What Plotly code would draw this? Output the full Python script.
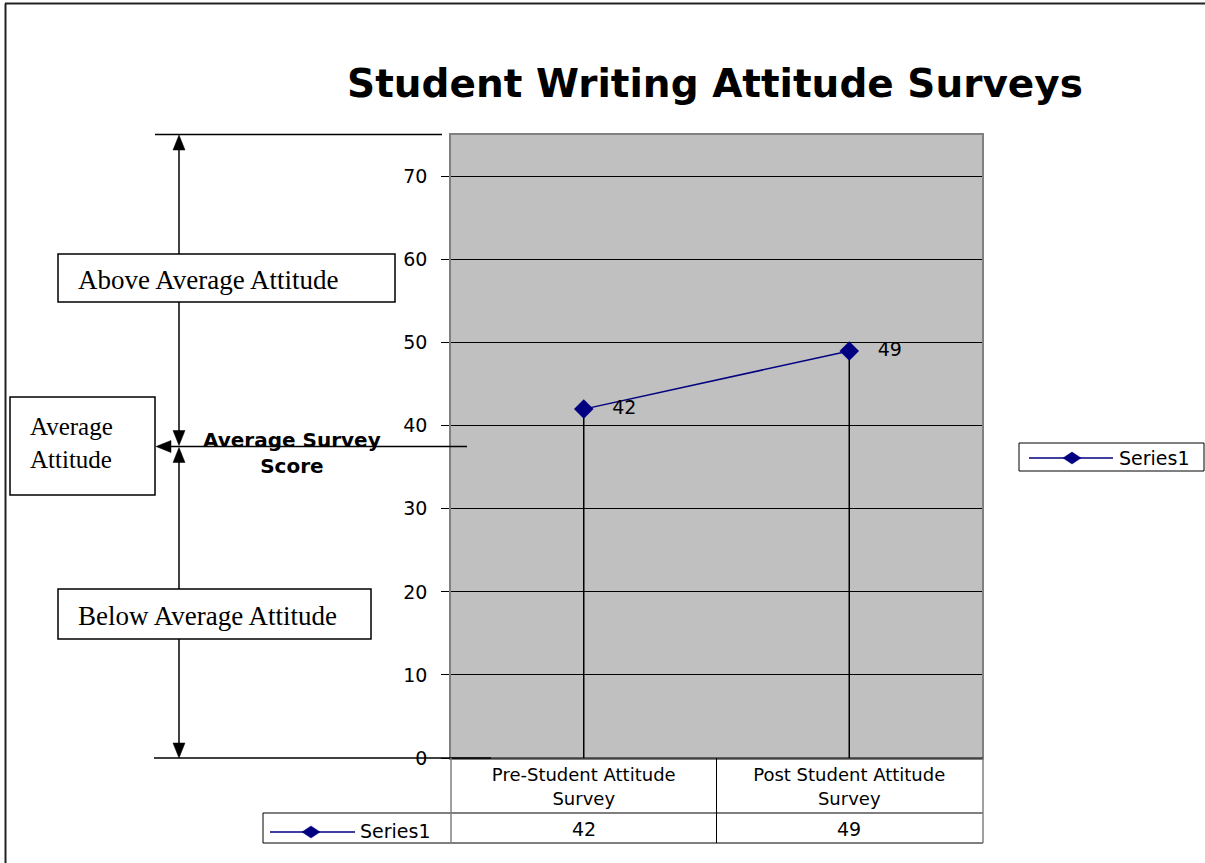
import plotly.graph_objects as go

# ---------------- data ----------------
categories = ["Pre-Student Attitude Survey", "Post Student Attitude Survey"]
category_labels = ["Pre-Student Attitude<br>Survey", "Post Student Attitude<br>Survey"]
series_name = "Series1"
values = [42, 49]
y_ticks = [0, 10, 20, 30, 40, 50, 60, 70]
y_range = [0, 75]
average_level = 37.5
chart_title = "Student Writing Attitude Surveys"
y_title = "Average Survey<br>Score"
band_labels = ["Above Average Attitude", "Average<br>Attitude", "Below Average Attitude"]

# ---------------- geometry ----------------
W, H = 1205, 863
L, R, T, B = 451, 223, 135, 105
PW, PH = W - L - R, H - T - B

NAVY = "#000080"
SANS = "DejaVu Sans"
SERIF = "Liberation Serif"


def fx(px):
    return (px - L) / PW


def fy(py):
    return (H - B - py) / PH


shapes = []
annotations = []


def line(x0, y0, x1, y1, color="black", width=1.5):
    shapes.append(dict(type="line", xref="paper", yref="paper",
                       x0=fx(x0), y0=fy(y0), x1=fx(x1), y1=fy(y1),
                       line=dict(color=color, width=width), layer="above"))


def poly(pts, color="black"):
    d = "M " + " L ".join(f"{fx(a):.5f},{fy(b):.5f}" for a, b in pts) + " Z"
    shapes.append(dict(type="path", xref="paper", yref="paper", path=d,
                       fillcolor=color, line=dict(color=color, width=0.5), layer="above"))


def rect(x0, y0, x1, y1, color="black", width=1.5, fill="white"):
    shapes.append(dict(type="rect", xref="paper", yref="paper",
                       x0=fx(x0), y0=fy(y0), x1=fx(x1), y1=fy(y1),
                       line=dict(color=color, width=width), fillcolor=fill, layer="above"))


def diamond(cx, cy, hw=9, hh=6):
    poly([(cx - hw, cy), (cx, cy - hh), (cx + hw, cy), (cx, cy + hh)], NAVY)


def text(t, x, y, size=19, family=SANS, xanchor="left", align="left", bold=False, xref="paper"):
    annotations.append(dict(text=f"<b>{t}</b>" if bold else t, x=x, y=y,
                            xref=xref, yref="paper", showarrow=False,
                            xanchor=xanchor, yanchor="middle", align=align,
                            font=dict(family=family, size=size, color="black")))


# page border (left and top)
line(5.5, 3.5, 5.5, 863, color="#222222", width=2)
line(5, 3.5, 1205, 3.5, color="#222222", width=2)

# left-hand attitude scale
y_avg_px = (H - B) - average_level / y_range[1] * PH
line(155, 134.5, 442, 134.5)
line(179, 148, 179, 254)
poly([(179, 135), (173, 150), (185, 150)])
line(179, 302, 179, 432)
poly([(179, y_avg_px - 1), (173, y_avg_px - 16), (185, y_avg_px - 16)])
line(179, y_avg_px + 15, 179, 589)
poly([(179, y_avg_px + 1), (173, y_avg_px + 16), (185, y_avg_px + 16)])
line(179, 639, 179, 744)
poly([(179, 758), (173, 743), (185, 743)])
line(170, y_avg_px, 467, y_avg_px)
poly([(156, y_avg_px), (171, y_avg_px - 6), (171, y_avg_px + 6)])
line(154, 758, 491, 758)

rect(58, 254, 395, 302)
rect(10, 397, 155, 495)
rect(58, 589, 371, 639)
text(band_labels[0], fx(76), fy(280), size=27, family=SERIF)
text(band_labels[1], fx(28), fy(443), size=25, family=SERIF)
text(band_labels[2], fx(76), fy(616), size=27, family=SERIF)
text(y_title, fx(292), fy(453), size=20, xanchor="center", align="center", bold=True)

# data table below the plot
line(451, 758, 983, 758, width=1)
line(263, 813, 983, 813, width=1)
line(263, 843, 983, 843, width=1)
line(263, 813, 263, 843, width=1)
line(451, 758, 451, 843, color="#808080", width=1.5)
line(716.5, 758, 716.5, 843, width=1)
line(983, 758, 983, 843, color="#808080", width=1.5)
line(270, 832, 355, 832, color=NAVY, width=1.5)
diamond(311, 832)
text(series_name, fx(358), fy(831))
for c, v in zip(categories, values):
    text(str(v), c, fy(829), xanchor="center", align="center", xref="x")

# legend on the right
rect(1019, 443, 1204, 471, width=1, fill="white")
line(1029, 458, 1113, 458, color=NAVY, width=1.5)
diamond(1072, 458)
text(series_name, fx(1117), fy(458))

fig = go.Figure()
fig.add_trace(go.Scatter(
    x=categories, y=values, name=series_name,
    mode="lines+markers+text",
    text=[str(v) for v in values],
    texttemplate="   %{text}",
    textposition="middle right",
    textfont=dict(family=SANS, size=19, color="black"),
    marker=dict(symbol="diamond", size=15, color=NAVY),
    line=dict(color=NAVY, width=1.5),
    error_y=dict(type="data", symmetric=False, array=[0] * len(values),
                 arrayminus=values, color="black", thickness=1.5, width=0),
    showlegend=False, cliponaxis=False,
))

fig.update_layout(
    width=W, height=H, autosize=False,
    margin=dict(l=L, r=R, t=T, b=B, pad=0),
    paper_bgcolor="white", plot_bgcolor="#C0C0C0",
    showlegend=False,
    title=dict(text=f"<b>{chart_title}</b>", xref="container", yref="container",
               x=715 / W, y=(H - 83) / H, xanchor="center", yanchor="middle",
               font=dict(family=SANS, size=39, color="black")),
    shapes=shapes, annotations=annotations,
    xaxis=dict(type="category", categoryorder="array", categoryarray=categories,
               range=[-0.5, len(categories) - 0.5],
               tickvals=categories, ticktext=category_labels,
               tickfont=dict(family=SANS, size=18, color="black"),
               ticks="", showgrid=False, zeroline=False,
               showline=True, linecolor="#808080", linewidth=1.5, mirror=True,
               ticklabelstandoff=0),
    yaxis=dict(range=y_range, tickvals=y_ticks, ticks="outside", ticklen=8,
               tickcolor="black", tickwidth=1,
               tickfont=dict(family=SANS, size=19, color="black"),
               showgrid=True, gridcolor="black", gridwidth=1,
               zeroline=True, zerolinecolor="black", zerolinewidth=1,
               showline=True, linecolor="#808080", linewidth=1.5, mirror=True,
               ticklabelstandoff=10),
)

fig.write_html("out.html")
